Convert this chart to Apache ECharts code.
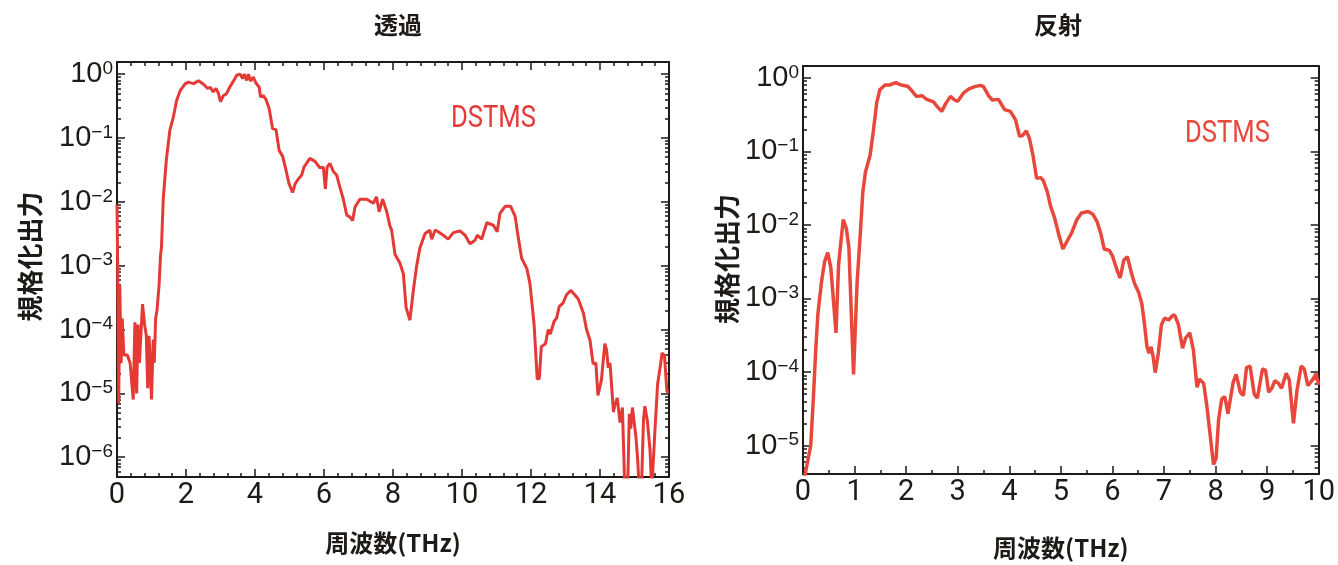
<!DOCTYPE html>
<html>
<head>
<meta charset="utf-8">
<title>DSTMS 透過・反射</title>
<script src="https://cdn.jsdelivr.net/npm/echarts@6/dist/echarts.min.js"></script>
<style>
    html, body { margin: 0; padding: 0; background: #fff; }
    #chart { width: 1338px; height: 565px; }
</style>
</head>
<body>
<div id="chart"></div>
<script>
// 透過 : 周波数(THz) / 規格化出力
var transFreq = [0, 0.02, 0.05, 0.08, 0.12, 0.15, 0.2, 0.3, 0.38, 0.47, 0.52, 0.57, 0.61, 0.65, 0.74, 0.8, 0.85, 0.89, 0.93, 1.0,
    1.05, 1.08, 1.12, 1.16, 1.22, 1.26, 1.29, 1.34, 1.43, 1.53, 1.63, 1.73, 1.83, 1.98, 2.07, 2.22, 2.36, 2.5, 2.62, 2.65,
    2.7, 2.79, 2.87, 2.94, 3.0, 3.08, 3.17, 3.27, 3.37, 3.47, 3.57, 3.64, 3.69, 3.76, 3.81, 3.87, 3.95, 4.03, 4.12, 4.16,
    4.24, 4.32, 4.41, 4.51, 4.61, 4.7, 4.8, 4.9, 4.99, 5.09, 5.16, 5.26, 5.35, 5.42, 5.59, 5.74, 5.88, 5.98, 6.04, 6.06,
    6.09, 6.17, 6.27, 6.37, 6.46, 6.56, 6.66, 6.75, 6.83, 6.9, 7.04, 7.24, 7.43, 7.52, 7.6, 7.7, 7.82, 7.91, 7.96, 8.06,
    8.2, 8.3, 8.38, 8.49, 8.59, 8.68, 8.78, 8.93, 9.07, 9.12, 9.22, 9.31, 9.46, 9.6, 9.75, 9.94, 10.09, 10.23, 10.38, 10.44,
    10.57, 10.72, 10.91, 11.02, 11.1, 11.25, 11.41, 11.54, 11.63, 11.73, 11.88, 11.97, 12.09, 12.18, 12.24, 12.3, 12.42, 12.5, 12.56, 12.67,
    12.74, 12.82, 12.93, 13.03, 13.15, 13.23, 13.37, 13.52, 13.61, 13.71, 13.8, 13.88, 13.94, 14.04, 14.14, 14.19, 14.24, 14.29, 14.39, 14.43,
    14.5, 14.58, 14.65, 14.72, 14.8, 14.85, 14.89, 14.94, 14.98, 15.04, 15.09, 15.14, 15.2, 15.26, 15.3, 15.37, 15.45, 15.5, 15.59, 15.67,
    15.75, 15.8, 15.87, 15.94, 16.0];
var transPower = [9e-3, 1e-3, 7e-6, 5e-4, 3e-5, 1.5e-4, 4e-5, 4e-5, 3e-5, 8e-6, 1.3e-4, 1e-5, 1.2e-4, 3e-5, 2.5e-4, 1.2e-4, 8e-5, 1.2e-5, 8e-5, 8e-6,
    7e-5, 3e-5, 1.5e-4, 2e-4, 5e-4, 1.4e-3, 2e-3, 1.1e-2, 4.5e-2, 0.13, 0.21, 0.39, 0.55, 0.71, 0.75, 0.71, 0.79, 0.7, 0.6, 0.56,
    0.62, 0.53, 0.6, 0.5, 0.37, 0.46, 0.49, 0.63, 0.77, 0.96, 1.0, 0.85, 1.0, 0.8, 1.0, 0.78, 0.9, 0.72, 0.63, 0.44,
    0.46, 0.4, 0.29, 0.14, 0.135, 0.064, 0.052, 0.031, 0.019, 0.014, 0.019, 0.023, 0.026, 0.035, 0.048, 0.043, 0.034, 0.035, 0.016, 0.015,
    0.035, 0.04, 0.03, 0.026, 0.017, 0.011, 0.0062, 0.0058, 0.0051, 0.0083, 0.011, 0.011, 0.0095, 0.012, 0.007, 0.011, 0.007, 0.0042, 0.0036, 0.0015,
    0.0011, 0.00075, 0.00022, 0.00014, 0.00041, 0.00095, 0.0019, 0.0032, 0.0036, 0.0026, 0.0036, 0.0034, 0.003, 0.0026, 0.0033, 0.0035, 0.003, 0.0022, 0.0025, 0.003,
    0.0026, 0.0047, 0.0043, 0.0034, 0.0066, 0.0085, 0.0085, 0.0059, 0.0028, 0.0013, 0.0009, 0.00052, 0.00012, 1.7e-5, 1.7e-5, 5.4e-5, 6e-5, 1e-4, 8.5e-5, 1.35e-4,
    1.5e-4, 2.3e-4, 2.6e-4, 3.5e-4, 4.1e-4, 3.7e-4, 3e-4, 1.8e-4, 1e-4, 6.8e-5, 2.9e-5, 3e-5, 9.3e-6, 1.6e-5, 6e-5, 4.8e-5, 2.5e-5, 3e-5, 5.1e-6, 6.5e-6,
    8.5e-6, 3.5e-6, 6e-6, 3e-7, 3e-7, 4.8e-6, 2.8e-6, 6e-6, 6.3e-6, 2.1e-6, 9.5e-7, 3e-7, 3e-7, 3.8e-6, 6.3e-6, 3.8e-6, 1.3e-6, 3e-7, 2.5e-6, 1.4e-5,
    2.7e-5, 4.3e-5, 3.9e-5, 1.05e-5, 1.05e-5];

// 反射
var reflFreq = [0, 0.04, 0.15, 0.2, 0.25, 0.29, 0.36, 0.42, 0.48, 0.54, 0.64, 0.69, 0.78, 0.84, 0.89, 0.98, 1.05, 1.11, 1.16, 1.21,
    1.3, 1.36, 1.43, 1.49, 1.59, 1.68, 1.8, 1.9, 2.03, 2.1, 2.2, 2.31, 2.4, 2.53, 2.6, 2.69, 2.77, 2.86, 2.94, 3.0,
    3.11, 3.22, 3.33, 3.44, 3.5, 3.6, 3.67, 3.79, 3.91, 4.02, 4.12, 4.2, 4.26, 4.33, 4.39, 4.46, 4.53, 4.61, 4.66, 4.74,
    4.8, 4.88, 4.96, 5.04, 5.12, 5.21, 5.31, 5.4, 5.53, 5.62, 5.7, 5.78, 5.84, 5.94, 6.0, 6.1, 6.15, 6.22, 6.29, 6.37,
    6.43, 6.51, 6.57, 6.62, 6.67, 6.71, 6.75, 6.79, 6.83, 6.89, 6.95, 7.01, 7.09, 7.17, 7.21, 7.28, 7.36, 7.42, 7.5, 7.57,
    7.64, 7.69, 7.77, 7.83, 7.9, 7.96, 8.01, 8.06, 8.12, 8.18, 8.24, 8.34, 8.4, 8.48, 8.54, 8.6, 8.67, 8.75, 8.81, 8.91,
    8.97, 9.03, 9.09, 9.15, 9.22, 9.28, 9.37, 9.43, 9.51, 9.58, 9.66, 9.72, 9.79, 9.89, 9.95, 10.0];
var reflPower = [3.5e-6, 4e-6, 1e-5, 4.3e-5, 2.2e-4, 6.3e-4, 1.7e-3, 3.2e-3, 4.2e-3, 2.6e-3, 3.4e-4, 2.9e-3, 0.0118, 0.009, 0.0049, 9.3e-5, 1.7e-3, 7.4e-3, 0.028, 0.052,
    0.088, 0.18, 0.46, 0.69, 0.8, 0.8, 0.86, 0.8, 0.77, 0.68, 0.56, 0.57, 0.51, 0.47, 0.41, 0.35, 0.45, 0.56, 0.5, 0.48,
    0.62, 0.71, 0.76, 0.79, 0.76, 0.57, 0.5, 0.51, 0.37, 0.35, 0.27, 0.16, 0.165, 0.19, 0.15, 0.088, 0.043, 0.044, 0.04, 0.028,
    0.018, 0.0124, 0.0074, 0.0047, 0.006, 0.0078, 0.0118, 0.0145, 0.0152, 0.014, 0.0112, 0.0074, 0.0047, 0.0045, 0.0038, 0.0023, 0.0019, 0.0033, 0.0037, 0.0022,
    0.0016, 0.0012, 8.5e-4, 4.6e-4, 2.2e-4, 1.8e-4, 2.2e-4, 1.6e-4, 9.8e-5, 1.8e-4, 4.4e-4, 5.4e-4, 5.1e-4, 5.9e-4, 5.9e-4, 4.4e-4, 2.1e-4, 2.9e-4, 3.4e-4, 2e-4,
    6.2e-5, 8e-5, 7e-5, 3.5e-5, 1.3e-5, 5.5e-6, 6.7e-6, 2.3e-5, 4.3e-5, 4.6e-5, 2.7e-5, 7.2e-5, 9.3e-5, 5.3e-5, 4.8e-5, 1.15e-4, 1.2e-4, 5e-5, 4.4e-5, 1.1e-4,
    1.05e-4, 5.3e-5, 6e-5, 7.6e-5, 7e-5, 6e-5, 9.6e-5, 7.8e-5, 2e-5, 5.7e-5, 1.2e-4, 1.1e-4, 6.5e-5, 8e-5, 9.5e-5, 6.7e-5];

// y axis labels (10^n)
var transDecades = [1e-6, 1e-5, 1e-4, 1e-3, 1e-2, 1e-1, 1];
var reflDecades = [1e-5, 1e-4, 1e-3, 1e-2, 1e-1, 1];

(function () {

    'use strict'

    var ink = '#1d1a17'
    var narrow = 'Roboto, "Liberation Sans", sans-serif'
    var cjk = '"Noto Sans CJK JP", sans-serif'

    var page = {

        init: function () {
            var self = this
            var chart = echarts.init(document.getElementById('chart'))
            chart.setOption(self.buildOption())
        },

        // 2..9 x 10^n between lo and hi
        minorValues: function (lo, hi) {
            var out = []
            var n0 = Math.floor(Math.log(lo) / Math.LN10)
            var n1 = Math.ceil(Math.log(hi) / Math.LN10)
            for (var n = n0; n <= n1; n++) {
                for (var k = 2; k <= 9; k++) {
                    var v = k * Math.pow(10, n)
                    if (v >= lo && v <= hi) out.push(v)
                }
            }
            return out
        },

        pairs: function (xs, ys) {
            var out = []
            for (var i = 0; i < xs.length; i++) out.push([xs[i], ys[i]])
            return out
        },

        xAxis: function (grid, max, step, split, pos, withLabels, withTicks, nameGap) {
            var a = {
                type: 'value', gridIndex: grid, position: pos,
                min: 0, max: max, interval: step,
                axisLine: { show: true, onZero: false, lineStyle: { color: ink, width: 2 } },
                axisTick: { show: withTicks, inside: true, length: 8, lineStyle: { color: ink, width: 1.5 } },
                minorTick: { show: withTicks, splitNumber: split, length: 4, lineStyle: { color: ink, width: 1.5 } },
                axisLabel: { show: withLabels, margin: 4, color: ink, fontFamily: narrow, fontSize: 29 },
                splitLine: { show: false },
                minorSplitLine: { show: false }
            }
            if (withLabels) {
                a.name = '周波数(THz)'
                a.nameLocation = 'middle'
                a.nameGap = nameGap
                a.nameTextStyle = { color: ink, fontFamily: cjk, fontWeight: 'bold', fontSize: 24 }
            }
            return a
        },

        yAxis: function (grid, lo, hi, pos, values, len, withLabels, withLine, nameGap, namePad) {
            var a = {
                type: 'log', logBase: 10, gridIndex: grid, position: pos,
                min: lo, max: hi,
                axisLine: { show: withLine, lineStyle: { color: ink, width: 2 } },
                axisTick: { show: true, inside: true, length: len, customValues: values, lineStyle: { color: ink, width: 1.5 } },
                axisLabel: { show: false },
                splitLine: { show: false }
            }
            if (withLabels) {
                a.axisLabel = {
                    show: true, margin: 4, customValues: values,
                    formatter: function (v) {
                        var e = Math.round(Math.log(v) / Math.LN10)
                        return '{m|10}{e|' + (e < 0 ? '\u2212' + (-e) : e) + '}'
                    },
                    rich: {
                        m: { fontFamily: '"Liberation Sans", Arial, sans-serif', fontSize: 29, color: ink, lineHeight: 30 },
                        e: { fontFamily: '"Liberation Sans", Arial, sans-serif', fontSize: 19, color: ink, lineHeight: 20, verticalAlign: 'top' }
                    }
                }
                a.name = '規格化出力'
                a.nameLocation = 'middle'
                a.nameRotate = 90
                a.nameGap = nameGap
                a.nameTextStyle = { color: ink, fontFamily: cjk, fontWeight: 'bold', fontSize: 26, padding: [0, 0, 0, namePad] }
            }
            return a
        },

        buildOption: function () {
            var self = this
            var tLo = 4.9e-7, tHi = 1.55
            var rLo = 4.1e-6, rHi = 1.45
            var tMinor = self.minorValues(tLo, tHi)
            var rMinor = self.minorValues(rLo, rHi)

            return {
                animation: false,
                backgroundColor: '#fff',
                title: [
                    { text: '透過', left: 393, top: 8, textAlign: 'center',
                      textStyle: { color: ink, fontFamily: cjk, fontWeight: 'bold', fontSize: 24 } },
                    { text: '反射', left: 1053, top: 8, textAlign: 'center',
                      textStyle: { color: ink, fontFamily: cjk, fontWeight: 'bold', fontSize: 24 } }
                ],
                graphic: [
                    { type: 'text', x: 451, y: 103, scaleX: 0.8,
                      style: { text: 'DSTMS', fill: '#e53935', font: '32px ' + narrow } },
                    { type: 'text', x: 1185, y: 118, scaleX: 0.8,
                      style: { text: 'DSTMS', fill: '#e8483c', font: '32px ' + narrow } }
                ],
                grid: [
                    { left: 117, top: 62, width: 552, height: 415 },
                    { left: 803, top: 66, width: 528, height: 414 }
                ],
                xAxis: [
                    self.xAxis(0, 16, 2, 5, 'bottom', true, true, 54),
                    self.xAxis(0, 16, 2, 5, 'top', false, true),
                    self.xAxis(1, 10, 1, 2, 'bottom', true, true, 62),
                    self.xAxis(1, 10, 1, 2, 'top', false, false)
                ],
                yAxis: [
                    self.yAxis(0, tLo, tHi, 'left', transDecades, 8, true, true, 74, 26),
                    self.yAxis(0, tLo, tHi, 'left', tMinor, 4, false, false),
                    self.yAxis(0, tLo, tHi, 'right', transDecades, 8, false, true),
                    self.yAxis(0, tLo, tHi, 'right', tMinor, 4, false, false),
                    self.yAxis(1, rLo, rHi, 'left', reflDecades, 8, true, true, 63, 22),
                    self.yAxis(1, rLo, rHi, 'left', rMinor, 4, false, false),
                    self.yAxis(1, rLo, rHi, 'right', reflDecades, 8, false, true),
                    self.yAxis(1, rLo, rHi, 'right', rMinor, 4, false, false)
                ],
                series: [
                    {
                        name: '透過', type: 'line', xAxisIndex: 0, yAxisIndex: 0,
                        data: self.pairs(transFreq, transPower),
                        showSymbol: false, smooth: false, clip: true,
                        lineStyle: { color: '#e53935', width: 3 }
                    },
                    {
                        name: '反射', type: 'line', xAxisIndex: 2, yAxisIndex: 4,
                        data: self.pairs(reflFreq, reflPower),
                        showSymbol: false, smooth: false, clip: true,
                        lineStyle: { color: '#e8483c', width: 3.5 }
                    }
                ]
            }
        }
    }

    page.init()
})()
</script>
</body>
</html>
